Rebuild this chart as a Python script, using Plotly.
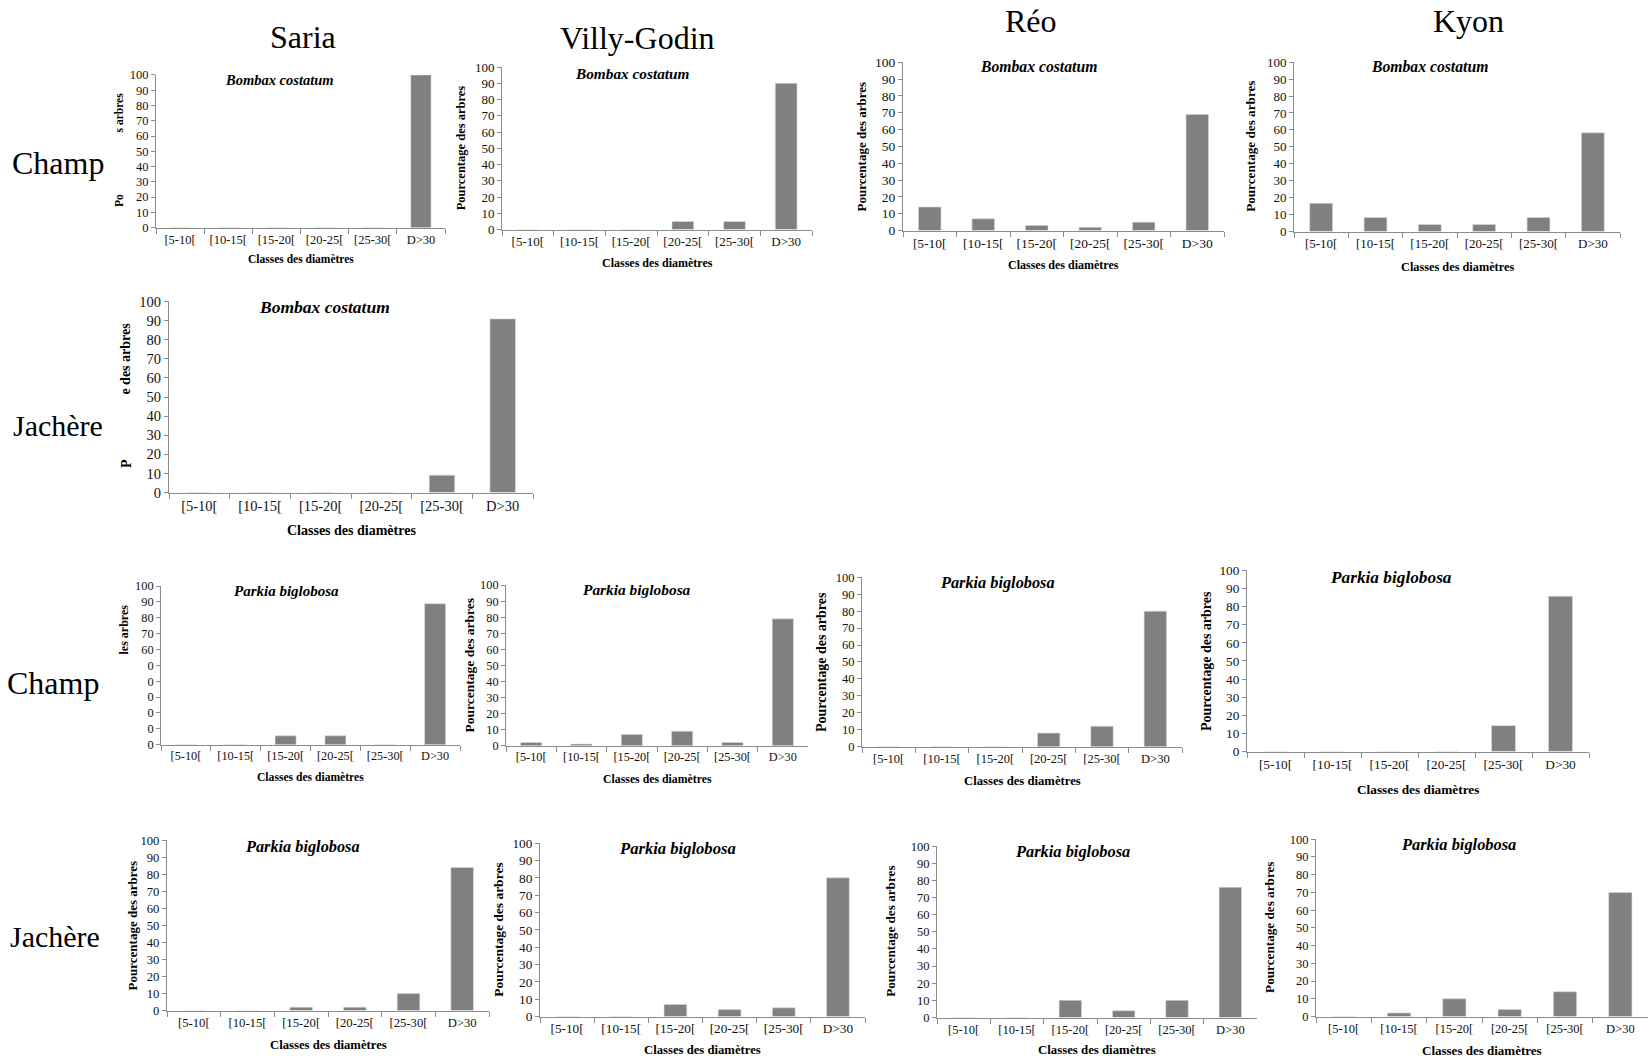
import plotly.graph_objects as go

# ---------------- data ----------------
categories = ["[5-10[", "[10-15[", "[15-20[", "[20-25[", "[25-30[", "D>30"]
sites = ["Saria", "Villy-Godin", "Réo", "Kyon"]
row_labels = ["Champ", "Jachère", "Champ", "Jachère"]
species_bombax = "Bombax costatum"
species_parkia = "Parkia biglobosa"
x_title = "Classes des diamètres"
y_title = "Pourcentage des arbres"
y_tick_values = [0, 10, 20, 30, 40, 50, 60, 70, 80, 90, 100]

bombax_champ_saria = [0, 0, 0, 0, 0, 100]
bombax_champ_villy = [0, 0, 0, 5, 5, 90]
bombax_champ_reo = [14, 7, 3, 2, 5, 69]
bombax_champ_kyon = [16.7, 8.3, 4.2, 4.2, 8.3, 58.3]
bombax_jachere_saria = [0, 0, 0, 0, 9.1, 90.9]

parkia_champ_saria = [0, 0, 5.6, 5.6, 0, 88.9]
parkia_champ_villy = [2, 1, 7, 9, 2, 79]
parkia_champ_reo = [0, 0, 0, 8, 12, 80]
parkia_champ_kyon = [0, 0, 0, 0, 14.3, 85.7]

parkia_jachere_saria = [0, 0, 2, 2, 10, 84]
parkia_jachere_villy = [0, 0, 7, 4, 5, 80]
parkia_jachere_reo = [0, 0, 10, 4, 10, 76]
parkia_jachere_kyon = [0, 2, 10, 4, 14, 70]

# clipped tick text seen on one panel of the original
clipped_ticks = ["0", "0", "0", "0", "0", "0", "60", "70", "80", "90", "100"]

# ---------------- page geometry ----------------
W, H = 1651, 1059


def fx(px):
    return px / W


def fy(py):
    return 1 - py / H


# panel boxes in page pixels
panels = [
    dict(v=bombax_champ_saria, sp=species_bombax, x0=156, x1=445, yt=68, y0=223, tc=(279, 73),
         tf=12.5, hf=14.5, xf=11.5, yt_mode="partial1", xo=32),
    dict(v=bombax_champ_villy, sp=species_bombax, x0=502, x1=812, yt=60, y0=225, tc=(632, 66),
         tf=13, hf=15.3, xf=12, yt_mode="full", yoff=41, ytf=12.5, xo=34),
    dict(v=bombax_champ_reo, sp=species_bombax, x0=903, x1=1224, yt=55, y0=226, tc=(1038, 59),
         tf=13.5, hf=15.7, xf=12, yt_mode="full", yoff=42, ytf=13, xo=35),
    dict(v=bombax_champ_kyon, sp=species_bombax, x0=1294, x1=1620, yt=55, y0=227, tc=(1429, 59),
         tf=13, hf=15.7, xf=12.3, yt_mode="full", yoff=43, ytf=13.2, xo=36),
    dict(v=bombax_jachere_saria, sp=species_bombax, x0=169, x1=533, yt=298, y0=492, tc=(324, 304),
         tf=14.5, hf=17.5, xf=14, yt_mode="partial2", xo=39),
    dict(v=parkia_champ_saria, sp=species_parkia, x0=161, x1=460, yt=587, y0=748, tc=(286, 592),
         tf=12.3, hf=15, xf=11.6, yt_mode="partial3", xo=33, clipped=True),
    dict(v=parkia_champ_villy, sp=species_parkia, x0=506, x1=808, yt=586, y0=749, tc=(637, 590),
         tf=12.3, hf=15.4, xf=11.8, yt_mode="full", yoff=37, ytf=13.5, xo=34),
    dict(v=parkia_champ_reo, sp=species_parkia, x0=862, x1=1182, yt=578, y0=750, tc=(997, 583),
         tf=12.5, hf=16.3, xf=12.7, yt_mode="full", yoff=40, ytf=14, xo=35),
    dict(v=parkia_champ_kyon, sp=species_parkia, x0=1247, x1=1589, yt=571, y0=755, tc=(1391, 578),
         tf=13.3, hf=17.3, xf=13.3, yt_mode="full", yoff=40, ytf=14, xo=38),
    dict(v=parkia_jachere_saria, sp=species_parkia, x0=167, x1=489, yt=845, y0=1018, tc=(302, 851),
         tf=12.7, hf=16.3, xf=12.7, yt_mode="full", yoff=35, ytf=13, xo=35),
    dict(v=parkia_jachere_villy, sp=species_parkia, x0=540, x1=865, yt=848, y0=1024, tc=(677, 853),
         tf=13.3, hf=16.6, xf=12.7, yt_mode="full", yoff=41, ytf=13.5, xo=34),
    dict(v=parkia_jachere_reo, sp=species_parkia, x0=937, x1=1257, yt=851, y0=1025, tc=(1072, 856),
         tf=12.5, hf=16.4, xf=12.8, yt_mode="full", yoff=46, ytf=13.2, xo=33),
    dict(v=parkia_jachere_kyon, sp=species_parkia, x0=1316, x1=1648, yt=844, y0=1024, tc=(1458, 849),
         tf=12.5, hf=16.4, xf=13, yt_mode="full", yoff=46, ytf=13.2, xo=34),
]

col_title_pos = [(303, 29), (637, 30), (1031, 13), (1468, 13)]
row_label_pos = [(58, 157, 32), (58, 424, 30), (53, 685, 32), (55, 943, 30)]

SERIF = "Liberation Serif"
AXIS_COLOR = "#8c8c8c"
BAR_COLOR = "#808080"

fig = go.Figure()
annotations = []
layout_axes = {}

for i, p in enumerate(panels, start=1):
    xn = "x" if i == 1 else f"x{i}"
    yn = "y" if i == 1 else f"y{i}"
    fig.add_trace(go.Bar(
        x=categories, y=p["v"], xaxis=xn, yaxis=yn,
        marker=dict(color=BAR_COLOR, line=dict(width=0.6, color="#d9d9d9")),
        showlegend=False, hoverinfo="x+y",
    ))
    xkey = "xaxis" if i == 1 else f"xaxis{i}"
    ykey = "yaxis" if i == 1 else f"yaxis{i}"
    layout_axes[xkey] = dict(
        domain=[fx(p["x0"]), fx(p["x1"])], anchor=yn, type="category",
        showline=True, linecolor=AXIS_COLOR, linewidth=1,
        ticks="outside", tickson="boundaries", ticklen=5, tickcolor=AXIS_COLOR,
        tickfont=dict(family=SERIF, size=p["tf"], color="#111111"),
        showgrid=False, zeroline=False, fixedrange=True,
    )
    ydict = dict(
        domain=[fy(p["y0"]), fy(p["yt"])], anchor=xn,
        range=[0, 100], tickmode="array", tickvals=y_tick_values,
        showline=True, linecolor=AXIS_COLOR, linewidth=1,
        ticks="outside", ticklen=4, tickcolor=AXIS_COLOR,
        tickfont=dict(family=SERIF, size=p["tf"], color="#111111"),
        showgrid=False, zeroline=False, fixedrange=True,
    )
    if p.get("clipped"):
        ydict["ticktext"] = clipped_ticks
    layout_axes[ykey] = ydict

    # species title
    annotations.append(dict(
        text=f"<b><i>{p['sp']}</i></b>", xref="paper", yref="paper",
        x=fx(p["tc"][0]), y=fy(p["tc"][1]), xanchor="center", yanchor="middle",
        showarrow=False, font=dict(family=SERIF, size=p["hf"], color="#000000"),
    ))
    # x-axis title
    annotations.append(dict(
        text=f"<b>{x_title}</b>", xref="paper", yref="paper",
        x=fx((p["x0"] + p["x1"]) / 2), y=fy(p["y0"] + p["xo"]),
        xanchor="center", yanchor="middle", showarrow=False,
        font=dict(family=SERIF, size=p["xf"], color="#000000"),
    ))
    # y-axis title
    ymid = (p["yt"] + p["y0"]) / 2
    if p["yt_mode"] == "full":
        annotations.append(dict(
            text=f"<b>{y_title}</b>", xref="paper", yref="paper",
            x=fx(p["x0"] - p["yoff"]), y=fy(ymid), textangle=-90,
            xanchor="center", yanchor="middle", showarrow=False,
            font=dict(family=SERIF, size=p["ytf"], color="#000000"),
        ))
    elif p["yt_mode"] == "partial1":
        for txt, yy in (("s arbres", 106), ("Po", 196)):
            annotations.append(dict(
                text=f"<b>{txt}</b>", xref="paper", yref="paper",
                x=fx(119), y=fy(yy), textangle=-90,
                xanchor="center", yanchor="middle", showarrow=False,
                font=dict(family=SERIF, size=11.5, color="#000000"),
            ))
    elif p["yt_mode"] == "partial2":
        for txt, yy in (("e des arbres", 356), ("P", 463)):
            annotations.append(dict(
                text=f"<b>{txt}</b>", xref="paper", yref="paper",
                x=fx(126), y=fy(yy), textangle=-90,
                xanchor="center", yanchor="middle", showarrow=False,
                font=dict(family=SERIF, size=14, color="#000000"),
            ))
    elif p["yt_mode"] == "partial3":
        annotations.append(dict(
            text="<b>les arbres</b>", xref="paper", yref="paper",
            x=fx(124), y=fy(631), textangle=-90,
            xanchor="center", yanchor="middle", showarrow=False,
            font=dict(family=SERIF, size=12, color="#000000"),
        ))

for name, (cx, cy) in zip(sites, col_title_pos):
    annotations.append(dict(
        text=name, xref="paper", yref="paper", x=fx(cx), y=fy(cy),
        xanchor="center", yanchor="middle", showarrow=False,
        font=dict(family=SERIF, size=32, color="#000000"),
    ))
for name, (cx, cy, fs) in zip(row_labels, row_label_pos):
    annotations.append(dict(
        text=name, xref="paper", yref="paper", x=fx(cx), y=fy(cy),
        xanchor="center", yanchor="middle", showarrow=False,
        font=dict(family=SERIF, size=fs, color="#000000"),
    ))

fig.update_layout(
    width=W, height=H, autosize=False,
    margin=dict(l=0, r=0, t=0, b=0, pad=0),
    paper_bgcolor="white", plot_bgcolor="white",
    bargap=0.58, showlegend=False,
    annotations=annotations,
    **layout_axes,
)

fig.write_html(
    "out.html",
    config={"displayModeBar": False},
    post_script="document.body.style.margin='0px';",
)
